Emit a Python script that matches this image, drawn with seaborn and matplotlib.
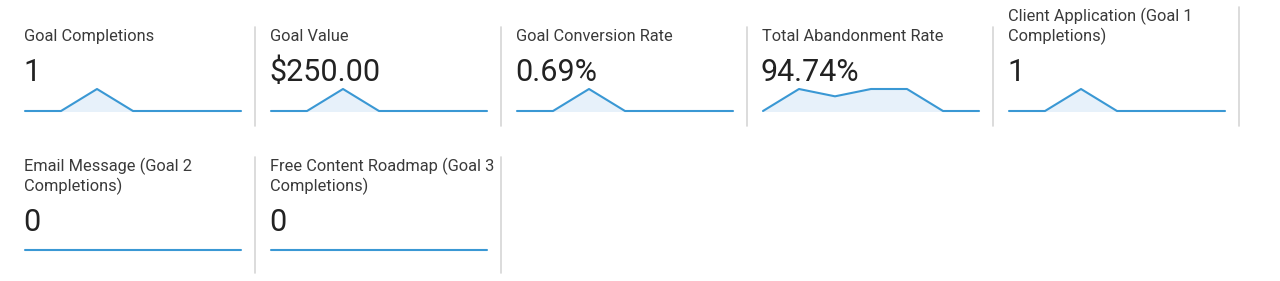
import matplotlib
matplotlib.use("Agg")
import matplotlib.pyplot as plt
import seaborn as sns
import numpy as np
import pandas as pd

sns.set_theme(style="white")
plt.rcParams['font.family'] = ['Roboto', 'DejaVu Sans']

titles = [
    "Goal Completions",
    "Goal Value",
    "Goal Conversion Rate",
    "Total Abandonment Rate",
    "Client Application (Goal 1\nCompletions)",
    "Email Message (Goal 2\nCompletions)",
    "Free Content Roadmap (Goal 3\nCompletions)",
]
headline = ["1", "$250.00", "0.69%", "94.74%", "1", "0", "0"]
days = [1, 2, 3, 4, 5, 6, 7]
goal_completions = [0, 0, 1, 0, 0, 0, 0]
goal_value = [0, 0, 250, 0, 0, 0, 0]
conversion_rate = [0, 0, 4.76, 0, 0, 0, 0]
abandonment_rate = [0, 100, 66.7, 100, 100, 0, 0]
client_application = [0, 0, 1, 0, 0, 0, 0]
email_message = [0, 0, 0, 0, 0, 0, 0]
free_content = [0, 0, 0, 0, 0, 0, 0]
series = [goal_completions, goal_value, conversion_rate, abandonment_rate,
          client_application, email_message, free_content]

W, H = 1280, 281
fig = plt.figure(figsize=(W / 100, H / 100), dpi=100)
fig.patch.set_facecolor("white")

LINE = "#3a98d4"
FILL = "#e7f1fa"
TXT = "#222222"
DIV = "#d6d6d6"

def fx(px):
    return px / W

def fy(py):
    return 1 - py / H

for i, (t, hv, s) in enumerate(zip(titles, headline, series)):
    row, col = divmod(i, 5)
    left = 25 + 246 * col
    dy = 150 * row
    # title (bottom line baseline at 41)
    fig.text(fx(left - 1), fy(41 + dy), t, fontsize=11.8, color="#3a3a3a",
             ha="left", va="baseline", linespacing=1.2)
    fig.text(fx(left - 2), fy(81 + dy), hv, fontsize=22.0, color=TXT,
             ha="left", va="baseline")
    # sparkline
    ax = fig.add_axes([fx(left), fy(111 + dy), fx(216), 22 / H])
    df = pd.DataFrame({"day": days, "v": s})
    vmin, vmax = min(s), max(s)
    sns.lineplot(data=df, x="day", y="v", ax=ax, color=LINE, linewidth=1.5,
                 clip_on=False)
    if vmax > vmin:
        ax.fill_between(df["day"], df["v"], vmin, color=FILL, zorder=0)
        ax.set_ylim(vmin, vmax)
    else:
        ax.set_ylim(vmin - 1, vmin + 1)
    ax.set_xlim(days[0], days[-1])
    ax.axis("off")
    # divider
    dx = 255 + 246 * col
    if row == 0:
        top = 7 if "\n" in t else 27
        bot = 126
    else:
        top, bot = 157, 273
    fig.add_artist(plt.Line2D([fx(dx), fx(dx)], [fy(top), fy(bot)],
                              color=DIV, linewidth=1.2))

fig.savefig("out.png", dpi=100, facecolor="white")
